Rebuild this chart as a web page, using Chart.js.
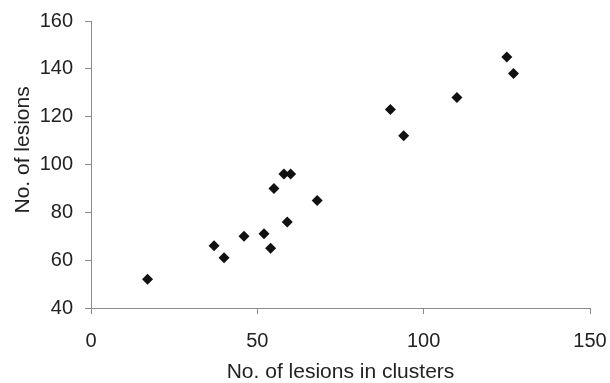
<!DOCTYPE html>
<html>
<head>
<meta charset="utf-8">
<script src="https://cdn.jsdelivr.net/npm/chart.js@4/dist/chart.umd.min.js"></script>
<style>
  html, body { margin: 0; padding: 0; background: #fff; }
  #wrap { width: 610px; height: 383px; }
</style>
</head>
<body>
<div id="wrap"><canvas id="lesionChart" width="610" height="383"></canvas></div>
<script>
// values
const lesionsInClusters = [17, 37, 40, 46, 52, 54, 55, 58, 59, 60, 68, 90, 94, 110, 125, 127]
const totalLesions      = [52, 66, 61, 70, 71, 65, 90, 96, 76, 96, 85, 123, 112, 128, 145, 138]
const xTicks = [0, 50, 100, 150]
const yTicks = [40, 60, 80, 100, 120, 140, 160]

const points = lesionsInClusters.map(function (x, i) {
  return { x: x, y: totalLesions[i] }
})

const axisGray = '#8a8a8a'
const textColor = '#222'

new Chart(document.getElementById('lesionChart'), {
  type: 'scatter',
  data: {
    datasets: [{
      label: 'Lesions',
      data: points,
      pointStyle: 'rectRot',
      pointRadius: 5.5,
      pointHoverRadius: 5.5,
      backgroundColor: '#111',
      borderColor: '#111',
      borderWidth: 0
    }]
  },
  options: {
    responsive: false,
    animation: false,
    layout: { padding: { left: 0, top: 21, right: 20, bottom: 0 } },
    plugins: { legend: { display: false }, tooltip: { enabled: false } },
    scales: {
      x: {
        type: 'linear',
        min: xTicks[0],
        max: xTicks[xTicks.length - 1],
        afterBuildTicks: function (scale) { scale.ticks = xTicks.map(v => ({ value: v })) },
        afterFit: function (scale) {
          scale.height = 75
          // plot box is fixed by layout padding, not by label overhang
          scale.paddingLeft = 0
          scale.paddingRight = 0
        },
        grid: { drawOnChartArea: false, drawTicks: true, tickLength: 6, color: axisGray },
        border: { display: true, color: axisGray, width: 1 },
        ticks: { color: textColor, padding: 15, font: { family: 'Liberation Sans', size: 20 } },
        title: {
          display: true,
          text: 'No. of lesions in clusters',
          color: textColor,
          padding: { top: 0, bottom: 0 },
          font: { family: 'Liberation Sans', size: 21, lineHeight: 1 }
        }
      },
      y: {
        type: 'linear',
        min: yTicks[0],
        max: yTicks[yTicks.length - 1],
        afterBuildTicks: function (scale) { scale.ticks = yTicks.map(v => ({ value: v })) },
        afterFit: function (scale) {
          scale.width = 91
          scale.paddingTop = 0
          scale.paddingBottom = 0
        },
        grid: { drawOnChartArea: false, drawTicks: true, tickLength: 6, color: axisGray },
        border: { display: true, color: axisGray, width: 1 },
        ticks: { color: textColor, padding: 12, font: { family: 'Liberation Sans', size: 20 } },
        title: {
          display: true,
          // leading spaces nudge the rotated title up a little, as in the original
          text: '     No. of lesions',
          color: textColor,
          padding: { top: 12.5, bottom: 0 },
          font: { family: 'Liberation Sans', size: 21, lineHeight: 1 }
        }
      }
    }
  }
})
</script>
</body>
</html>
